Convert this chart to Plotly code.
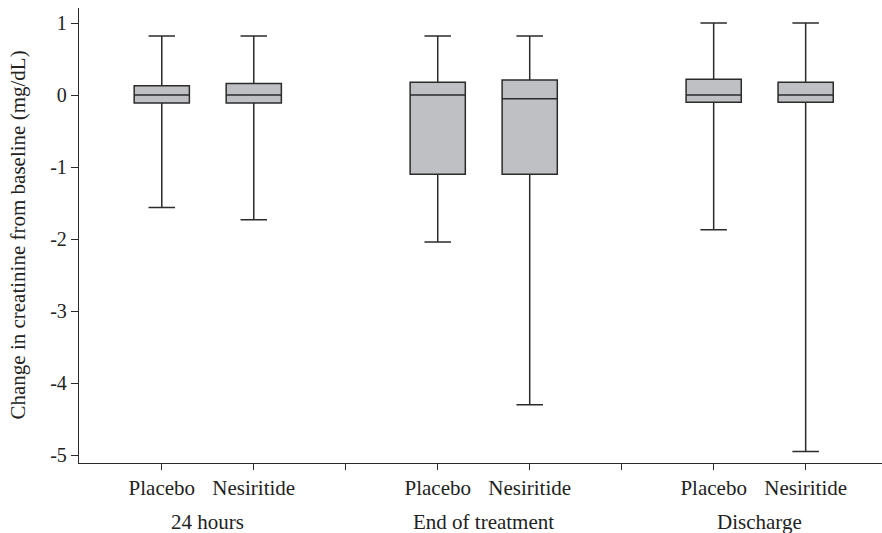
import plotly.graph_objects as go

# Box positions on a numeric axis; 3 and 6 are the gaps between time points
positions = [1, 2, 4, 5, 7, 8]
arm_labels = ["Placebo", "Nesiritide", "Placebo", "Nesiritide", "Placebo", "Nesiritide"]
time_points = ["24 hours", "End of treatment", "Discharge"]
time_centers = [1.5, 4.5, 7.5]

# Summary statistics for change in creatinine (mg/dL)
upper_whisker = [0.82, 0.82, 0.82, 0.82, 1.00, 1.00]
q3_values = [0.13, 0.16, 0.18, 0.21, 0.22, 0.18]
median_values = [0.00, 0.00, 0.00, -0.05, 0.00, 0.00]
q1_values = [-0.11, -0.11, -1.10, -1.10, -0.10, -0.10]
lower_whisker = [-1.56, -1.73, -2.04, -4.30, -1.87, -4.95]

y_ticks = [1, 0, -1, -2, -3, -4, -5]

FONT = "Liberation Serif, Times New Roman, serif"
INK = "#2b2b2b"
TEXT = "#222222"

fig = go.Figure()
fig.add_trace(go.Box(
    x=positions,
    q1=q1_values,
    median=median_values,
    q3=q3_values,
    lowerfence=lower_whisker,
    upperfence=upper_whisker,
    width=0.6,
    whiskerwidth=0.48,
    fillcolor="#bfc0c4",
    line=dict(color=INK, width=1.5),
    boxpoints=False,
    hoverinfo="skip",
    showlegend=False,
))

# Time-point labels beneath the arm labels
for xc, label in zip(time_centers, time_points):
    fig.add_annotation(
        x=xc, xref="x", y=-0.13, yref="paper",
        text=label, showarrow=False,
        font=dict(family=FONT, size=21, color=TEXT),
        xanchor="center", yanchor="middle",
    )

# Vertical axis title
fig.add_annotation(
    x=-(79 - 17) / 803, xref="paper", y=0.5, yref="paper",
    text="Change in creatinine from baseline (mg/dL)",
    textangle=-90, showarrow=False,
    font=dict(family=FONT, size=21, color=TEXT),
    xanchor="center", yanchor="middle",
)

fig.update_layout(
    width=882, height=533,
    margin=dict(l=79, r=0, t=8, b=70),
    paper_bgcolor="white", plot_bgcolor="white",
    font=dict(family=FONT, size=21, color=TEXT),
    xaxis=dict(
        range=[0.1, 8.83],
        tickmode="array",
        tickvals=[1, 2, 3, 4, 5, 6, 7, 8],
        ticktext=["Placebo", "Nesiritide", "", "Placebo", "Nesiritide", "", "Placebo", "Nesiritide"],
        ticks="outside", ticklen=6, tickwidth=1.3, tickcolor=INK,
        showline=True, linecolor=INK, linewidth=1.3,
        showgrid=False, zeroline=False,
        tickfont=dict(family=FONT, size=21, color=TEXT),
    ),
    yaxis=dict(
        range=[-5.11, 1.21],
        tickmode="array",
        tickvals=y_ticks,
        ticktext=[str(v) for v in y_ticks],
        ticks="outside", ticklen=7, tickwidth=1.3, tickcolor=INK,
        showline=True, linecolor=INK, linewidth=1.3,
        showgrid=False, zeroline=False,
        tickfont=dict(family=FONT, size=20, color=TEXT),
    ),
)

fig.write_html("out.html")
